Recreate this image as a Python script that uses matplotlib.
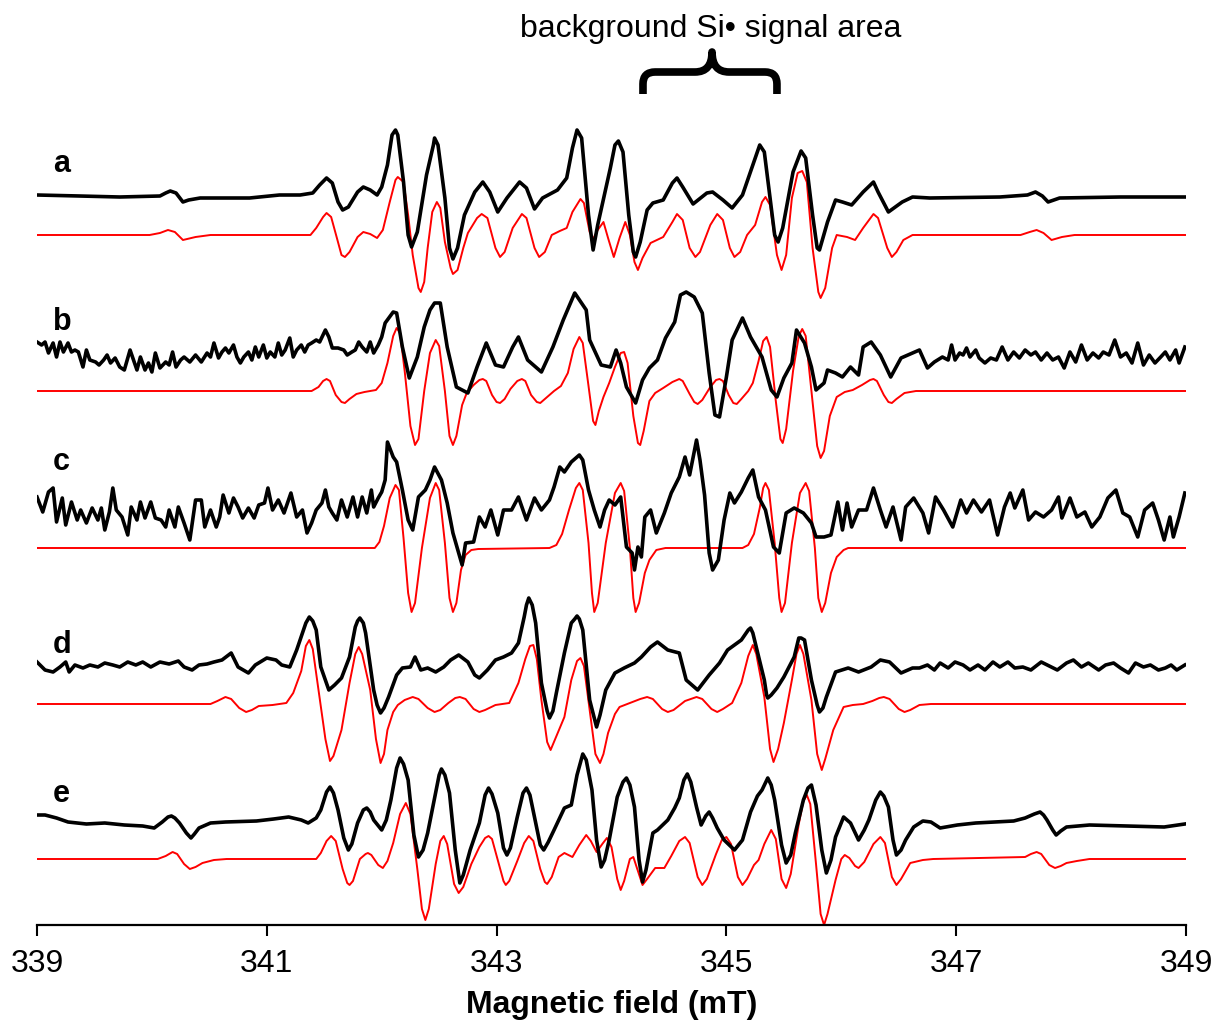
import numpy as np
import matplotlib
matplotlib.use("Agg")
import matplotlib.pyplot as plt
from matplotlib.path import Path
from matplotlib.patches import PathPatch

plt.rcParams['font.family'] = ['Liberation Sans', 'DejaVu Sans']

# ---------------- data (field in mT, intensity in arbitrary units) ----------------
trace_labels = ['a', 'b', 'c', 'd', 'e']
x_ticks = [339, 341, 343, 345, 347, 349]

a_exp_field = [339.00, 339.37, 339.72, 340.07, 340.12, 340.16, 340.21, 340.27, 340.32, 340.42, 340.85, 341.11,
               341.29, 341.40, 341.46, 341.52, 341.57, 341.62, 341.66, 341.71, 341.79, 341.84, 341.90, 341.96,
               342.00, 342.05, 342.09, 342.12, 342.14, 342.19, 342.23, 342.26, 342.31, 342.39, 342.45, 342.46,
               342.49, 342.55, 342.59, 342.62, 342.66, 342.72, 342.81, 342.88, 342.94, 343.01, 343.09, 343.20,
               343.26, 343.33, 343.40, 343.53, 343.61, 343.66, 343.70, 343.74, 343.80, 343.84, 343.88, 343.99,
               344.03, 344.06, 344.10, 344.15, 344.19, 344.21, 344.25, 344.31, 344.36, 344.45, 344.53, 344.57,
               344.62, 344.71, 344.83, 344.88, 344.97, 345.05, 345.14, 345.23, 345.29, 345.33, 345.38, 345.42,
               345.45, 345.49, 345.58, 345.65, 345.69, 345.75, 345.79, 345.81, 345.88, 345.95, 346.01, 346.09,
               346.19, 346.28, 346.32, 346.41, 346.53, 346.62, 346.77, 347.38, 347.62, 347.69, 347.75, 347.80,
               347.90, 348.43, 349.00]
a_exp_int = [1, 0, -1, 0, 3, 5, 3, -6, -4, -2, -2, 1,
             1, 3, 11, 18, 13, -6, -14, -11, 4, 9, 6, 1,
             9, 31, 61, 66, 61, 14, -39, -51, -36, 21, 51, 58,
             51, -2, -52, -63, -52, -19, 4, 14, 4, -16, -2, 14,
             8, -13, -2, 6, 18, 48, 66, 58, -19, -54, -29, 28,
             51, 55, 44, -19, -56, -61, -46, -14, -7, -4, 13, 18,
             9, -8, 3, 4, -4, -12, 1, 31, 51, 44, -2, -39,
             -46, -32, 24, 45, 38, -19, -52, -54, -26, -4, -6, -9,
             4, 14, 4, -16, -6, -1, -2, -1, 1, 4, 0, -6,
             -2, -1, -1]

a_sim_field = [339.00, 339.98, 340.07, 340.14, 340.20, 340.27, 340.38, 340.51, 341.38, 341.43, 341.49, 341.52,
               341.56, 341.61, 341.65, 341.68, 341.72, 341.79, 341.84, 341.90, 341.96, 342.01, 342.07, 342.12,
               342.14, 342.19, 342.23, 342.27, 342.32, 342.34, 342.37, 342.40, 342.44, 342.48, 342.51, 342.55,
               342.60, 342.62, 342.66, 342.71, 342.75, 342.83, 342.87, 342.92, 342.99, 343.03, 343.07, 343.14,
               343.22, 343.26, 343.33, 343.37, 343.42, 343.48, 343.55, 343.61, 343.66, 343.73, 343.76, 343.81,
               343.84, 343.88, 343.93, 343.97, 344.02, 344.07, 344.12, 344.16, 344.20, 344.23, 344.27, 344.34,
               344.45, 344.53, 344.57, 344.62, 344.68, 344.73, 344.77, 344.86, 344.92, 344.97, 345.03, 345.07,
               345.12, 345.18, 345.25, 345.31, 345.34, 345.38, 345.44, 345.48, 345.52, 345.57, 345.62, 345.66,
               345.70, 345.75, 345.80, 345.82, 345.86, 345.92, 345.96, 346.05, 346.12, 346.19, 346.28, 346.32,
               346.40, 346.44, 346.48, 346.54, 346.62, 347.56, 347.64, 347.70, 347.76, 347.83, 347.92, 348.03,
               349.00]
a_sim_int = [0, 0, 2, 5, 3, -5, -2, 0, 0, 7, 18, 22,
             18, -3, -20, -22, -17, -2, 3, 1, -3, 5, 33, 55,
             58, 53, 20, -20, -53, -57, -47, -13, 23, 33, 27, -7,
             -33, -39, -35, -13, 2, 17, 21, 17, -13, -22, -17, 7,
             21, 17, -13, -22, -17, 0, 4, 7, 23, 36, 32, 3,
             -4, 5, 13, -3, -22, -3, 13, 0, -27, -35, -23, -8,
             -2, 13, 21, 15, -13, -22, -17, 10, 21, 15, -13, -22,
             -17, 0, 10, 33, 38, 30, -20, -35, -20, 37, 62, 64,
             53, -13, -57, -63, -53, -13, 0, -2, -5, 7, 21, 17,
             -13, -22, -17, -5, 0, 0, 3, 5, 2, -5, -2, 0,
             0]

b_exp_field = [339.00, 339.04, 339.07, 339.10, 339.14, 339.17, 339.20, 339.23, 339.27, 339.30, 339.33, 339.36,
               339.40, 339.43, 339.46, 339.51, 339.54, 339.58, 339.61, 339.64, 339.68, 339.72, 339.76, 339.81,
               339.84, 339.87, 339.90, 339.94, 339.97, 340.00, 340.03, 340.07, 340.12, 340.15, 340.18, 340.21,
               340.25, 340.28, 340.33, 340.38, 340.43, 340.48, 340.51, 340.54, 340.58, 340.61, 340.64, 340.67,
               340.71, 340.74, 340.77, 340.80, 340.84, 340.87, 340.90, 340.93, 340.97, 341.00, 341.03, 341.07,
               341.10, 341.13, 341.16, 341.20, 341.23, 341.26, 341.30, 341.33, 341.36, 341.39, 341.43, 341.46,
               341.51, 341.54, 341.57, 341.62, 341.67, 341.70, 341.74, 341.77, 341.80, 341.83, 341.87, 341.90,
               341.93, 341.97, 342.00, 342.03, 342.10, 342.13, 342.18, 342.24, 342.31, 342.37, 342.42, 342.46,
               342.51, 342.57, 342.65, 342.75, 342.83, 342.91, 342.99, 343.06, 343.14, 343.19, 343.27, 343.39,
               343.49, 343.58, 343.68, 343.75, 343.78, 343.81, 343.91, 343.99, 344.04, 344.08, 344.13, 344.21,
               344.27, 344.33, 344.40, 344.47, 344.55, 344.60, 344.65, 344.72, 344.79, 344.85, 344.90, 344.94,
               345.00, 345.05, 345.14, 345.21, 345.31, 345.39, 345.44, 345.50, 345.57, 345.61, 345.68, 345.74,
               345.78, 345.85, 345.88, 345.95, 346.01, 346.08, 346.15, 346.19, 346.26, 346.34, 346.43, 346.52,
               346.68, 346.75, 346.81, 346.88, 346.93, 346.96, 346.99, 347.03, 347.06, 347.09, 347.12, 347.17,
               347.20, 347.25, 347.30, 347.35, 347.40, 347.45, 347.50, 347.55, 347.60, 347.65, 347.69, 347.74,
               347.79, 347.84, 347.89, 347.94, 347.99, 348.04, 348.09, 348.14, 348.19, 348.24, 348.28, 348.33,
               348.38, 348.43, 348.48, 348.53, 348.58, 348.63, 348.68, 348.73, 348.78, 348.82, 348.86, 348.91,
               348.94, 348.99]
b_exp_int = [8, 5, 8, -3, 7, -7, 8, -2, 7, -2, 0, -2,
             -17, 0, -10, -12, -15, -10, -5, -13, -8, -17, -20, 0,
             -10, -20, -7, -20, -13, -22, -3, -18, -12, -15, -2, -17,
             -10, -7, -12, -5, -12, -3, -7, 7, -8, -2, 2, -3,
             5, -7, -13, -7, -2, -10, 3, -7, 5, -8, -2, -7,
             7, -5, 0, 12, -7, 0, 5, -2, 5, 7, 10, 8,
             20, 13, 2, 2, 0, -5, -2, 0, 8, 3, -2, 8,
             -3, 5, 13, 27, 38, 37, 3, -28, -7, 23, 40, 47,
             47, 3, -37, -43, -17, 7, -15, -17, 3, 13, -10, -22,
             3, 30, 57, 45, 40, 10, -15, -17, 0, -13, -37, -53,
             -30, -18, -10, 12, 28, 55, 58, 53, 37, -23, -65, -67,
             -27, 10, 32, 13, -7, -40, -47, -28, -13, 20, 7, -17,
             -40, -33, -20, -23, -27, -17, -25, 3, 8, -5, -27, -8,
             0, -18, -12, -7, -10, 5, -10, -3, -5, 2, -7, 0,
             -8, -13, -8, -10, 3, -10, -2, -8, 0, -5, -2, -10,
             -3, -10, -7, -18, -2, -12, 5, -10, -3, -8, -2, -5,
             10, -7, -3, -13, 7, -15, -5, -13, -7, -2, -10, 0,
             -13, 3]

b_sim_field = [339.00, 341.39, 341.45, 341.49, 341.52, 341.55, 341.60, 341.65, 341.68, 341.72, 341.78, 341.85,
               341.95, 342.00, 342.05, 342.10, 342.13, 342.16, 342.20, 342.25, 342.29, 342.32, 342.37, 342.42,
               342.47, 342.50, 342.55, 342.59, 342.62, 342.65, 342.70, 342.74, 342.80, 342.85, 342.88, 342.91,
               342.96, 343.00, 343.03, 343.07, 343.12, 343.18, 343.22, 343.25, 343.30, 343.35, 343.38, 343.42,
               343.50, 343.56, 343.62, 343.67, 343.72, 343.75, 343.80, 343.84, 343.86, 343.89, 343.93, 343.98,
               344.03, 344.08, 344.11, 344.14, 344.19, 344.23, 344.25, 344.28, 344.33, 344.38, 344.45, 344.53,
               344.59, 344.62, 344.68, 344.72, 344.75, 344.79, 344.86, 344.91, 344.94, 344.97, 345.02, 345.06,
               345.09, 345.13, 345.19, 345.23, 345.28, 345.32, 345.35, 345.38, 345.43, 345.47, 345.49, 345.52,
               345.58, 345.63, 345.66, 345.69, 345.74, 345.79, 345.82, 345.85, 345.90, 345.96, 346.03, 346.10,
               346.18, 346.25, 346.28, 346.31, 346.37, 346.41, 346.44, 346.48, 346.55, 346.65, 349.00]
b_sim_int = [0, 0, 4, 10, 12, 10, -4, -11, -12, -8, -3, -1,
             1, 8, 28, 55, 63, 58, 20, -35, -54, -48, 0, 38,
             51, 45, 0, -45, -54, -45, -14, -2, 6, 11, 12, 10,
             -4, -11, -12, -8, 2, 10, 12, 10, -4, -11, -12, -8,
             0, 5, 18, 42, 54, 48, 5, -30, -34, -20, -6, 8,
             24, 38, 39, 28, -25, -52, -54, -40, -10, -2, 3, 9,
             12, 10, -3, -11, -13, -9, 4, 11, 12, 10, -4, -12,
             -13, -8, 0, 8, 30, 50, 54, 44, -10, -48, -52, -38,
             20, 55, 62, 55, 0, -55, -67, -60, -25, -6, -1, 1,
             6, 11, 12, 10, -4, -11, -12, -8, -2, 0, 0]

c_exp_field = [339.00, 339.05, 339.10, 339.14, 339.17, 339.22, 339.25, 339.30, 339.35, 339.38, 339.43, 339.48,
               339.53, 339.56, 339.59, 339.63, 339.66, 339.69, 339.74, 339.79, 339.82, 339.87, 339.90, 339.94,
               339.99, 340.03, 340.08, 340.12, 340.15, 340.20, 340.23, 340.28, 340.33, 340.38, 340.43, 340.46,
               340.51, 340.56, 340.59, 340.62, 340.67, 340.71, 340.75, 340.79, 340.84, 340.89, 340.93, 340.98,
               341.01, 341.05, 341.10, 341.15, 341.18, 341.21, 341.26, 341.31, 341.35, 341.39, 341.43, 341.48,
               341.51, 341.54, 341.57, 341.61, 341.65, 341.70, 341.75, 341.79, 341.83, 341.87, 341.91, 341.93,
               341.97, 342.00, 342.03, 342.05, 342.10, 342.13, 342.18, 342.23, 342.27, 342.32, 342.38, 342.42,
               342.46, 342.52, 342.57, 342.62, 342.67, 342.70, 342.73, 342.80, 342.85, 342.90, 342.95, 343.01,
               343.06, 343.13, 343.19, 343.26, 343.33, 343.39, 343.46, 343.50, 343.55, 343.59, 343.65, 343.72,
               343.75, 343.80, 343.85, 343.90, 343.94, 343.98, 344.03, 344.08, 344.13, 344.18, 344.20, 344.23,
               344.26, 344.29, 344.34, 344.39, 344.46, 344.52, 344.59, 344.64, 344.68, 344.74, 344.77, 344.81,
               344.85, 344.88, 344.93, 344.98, 345.03, 345.07, 345.13, 345.19, 345.23, 345.28, 345.34, 345.41,
               345.46, 345.52, 345.59, 345.67, 345.74, 345.78, 345.85, 345.91, 345.97, 346.01, 346.05, 346.09,
               346.15, 346.22, 346.28, 346.34, 346.39, 346.45, 346.52, 346.56, 346.63, 346.71, 346.76, 346.82,
               346.89, 346.97, 347.04, 347.09, 347.15, 347.22, 347.29, 347.36, 347.42, 347.47, 347.51, 347.58,
               347.63, 347.69, 347.76, 347.83, 347.89, 347.92, 347.99, 348.05, 348.12, 348.18, 348.25, 348.32,
               348.39, 348.45, 348.51, 348.58, 348.64, 348.71, 348.76, 348.81, 348.86, 348.89, 348.94, 348.99]
c_exp_int = [8, -7, 13, 17, -17, 7, -20, 3, -15, -5, -18, -3,
             -15, -3, -25, -7, 17, -5, -12, -30, -2, -15, 3, -13,
             3, -13, -15, -22, -5, -22, -2, -18, -35, 5, 5, -22,
             -5, -22, -12, 10, -8, 7, -2, -13, -3, -13, 0, 2,
             17, -5, 5, -8, 2, 12, -12, -5, -28, -18, -5, 2,
             15, -2, -8, -15, 5, -12, 8, -12, 8, -8, 15, -2,
             7, 13, 25, 63, 48, 43, 15, -15, -25, 8, 15, 25,
             38, 25, 2, -28, -48, -60, -38, -37, -12, -22, -5, -30,
             -5, -5, 8, -15, 7, -5, 5, 18, 38, 33, 43, 50,
             45, 15, -5, -22, -5, 5, 0, 8, -42, -48, -65, -42,
             -52, -12, -5, -28, -8, 12, 28, 48, 30, 65, 45, 10,
             -48, -65, -55, -15, 12, 2, 13, 27, 35, 8, -5, -42,
             -48, -8, -3, -8, -18, -32, -32, -30, 3, -25, 2, -22,
             -5, -5, 17, -5, -22, -2, -35, -2, 7, -8, -28, 8,
             -5, -22, 5, -8, 5, -7, 5, -30, -2, 12, -3, 15,
             -15, -7, -12, -5, 8, -13, 7, -12, -7, -22, -12, 7,
             15, -8, -12, -32, -5, 2, -15, -35, -12, -32, -12, 12]

c_sim_field = [339.00, 341.94, 341.98, 342.02, 342.07, 342.12, 342.15, 342.19, 342.23, 342.26, 342.29, 342.35,
               342.42, 342.47, 342.50, 342.55, 342.59, 342.62, 342.65, 342.69, 342.73, 342.78, 342.84, 343.46,
               343.52, 343.57, 343.63, 343.69, 343.72, 343.75, 343.80, 343.83, 343.85, 343.88, 343.95, 344.03,
               344.08, 344.11, 344.16, 344.19, 344.21, 344.24, 344.29, 344.33, 344.39, 344.47, 345.14, 345.19,
               345.24, 345.29, 345.32, 345.34, 345.37, 345.42, 345.46, 345.48, 345.51, 345.57, 345.64, 345.69,
               345.72, 345.77, 345.80, 345.83, 345.86, 345.91, 345.96, 346.02, 346.06, 349.00]
c_sim_int = [0, 0, 6, 22, 50, 63, 58, 10, -45, -64, -55, 0,
             50, 65, 58, 5, -50, -64, -55, -22, -7, -2, -1, 0,
             3, 14, 38, 60, 65, 58, 5, -45, -64, -55, 5, 55,
             65, 57, 0, -50, -64, -55, -25, -12, -2, 0, 0, 3,
             14, 40, 60, 65, 58, 5, -50, -64, -55, 5, 55, 65,
             57, 0, -50, -64, -55, -25, -9, -2, 0, 0]

d_exp_field = [339.00, 339.07, 339.14, 339.20, 339.25, 339.28, 339.33, 339.40, 339.46, 339.53, 339.59, 339.66,
               339.72, 339.79, 339.86, 339.92, 339.99, 340.07, 340.15, 340.23, 340.28, 340.35, 340.41, 340.48,
               340.54, 340.61, 340.69, 340.75, 340.84, 340.90, 341.00, 341.08, 341.13, 341.20, 341.26, 341.32,
               341.34, 341.37, 341.40, 341.43, 341.47, 341.54, 341.59, 341.65, 341.72, 341.77, 341.79, 341.81,
               341.84, 341.86, 341.93, 341.96, 341.99, 342.02, 342.06, 342.13, 342.18, 342.25, 342.29, 342.34,
               342.40, 342.47, 342.54, 342.60, 342.67, 342.75, 342.81, 342.85, 342.92, 342.99, 343.06, 343.13,
               343.19, 343.24, 343.26, 343.28, 343.31, 343.34, 343.39, 343.44, 343.46, 343.49, 343.52, 343.59,
               343.65, 343.68, 343.70, 343.72, 343.75, 343.81, 343.85, 343.87, 343.90, 343.95, 344.03, 344.11,
               344.20, 344.26, 344.34, 344.40, 344.49, 344.59, 344.65, 344.75, 344.85, 344.94, 345.01, 345.13,
               345.19, 345.21, 345.23, 345.26, 345.33, 345.35, 345.36, 345.39, 345.44, 345.50, 345.59, 345.63,
               345.65, 345.68, 345.74, 345.79, 345.81, 345.84, 345.87, 345.95, 346.06, 346.15, 346.26, 346.34,
               346.42, 346.52, 346.62, 346.68, 346.75, 346.81, 346.86, 346.93, 346.99, 347.06, 347.12, 347.19,
               347.25, 347.32, 347.38, 347.45, 347.51, 347.58, 347.65, 347.74, 347.81, 347.88, 347.96, 348.02,
               348.09, 348.15, 348.24, 348.30, 348.37, 348.43, 348.50, 348.56, 348.63, 348.69, 348.76, 348.82,
               348.87, 348.92, 348.99]
d_exp_int = [1, -7, -9, -4, 1, -9, -2, -5, -2, -4, 0, -2,
             -4, 1, -2, 1, -4, 1, -1, 2, -4, -7, -2, -1,
             1, 3, 10, -4, -10, -2, 5, 3, -2, -4, 13, 33,
             40, 46, 42, 33, -4, -27, -22, -15, 6, 36, 42, 45,
             40, 30, -27, -42, -50, -45, -34, -12, -5, -4, 6, -7,
             -5, -9, -4, 3, 8, 1, -12, -15, -7, 3, 6, 10,
             20, 46, 58, 65, 58, 40, -20, -48, -55, -48, -30, 10,
             40, 44, 47, 44, 33, -37, -55, -64, -52, -27, -10, -5,
             0, 6, 16, 21, 13, 10, -17, -27, -12, 0, 13, 23,
             33, 35, 30, 16, -17, -32, -35, -32, -25, -14, 6, 25,
             25, 23, -17, -42, -49, -45, -34, -9, -5, -9, -4, 3,
             1, -10, -5, -5, -2, -7, 0, -5, 1, -2, -7, -2,
             -7, 1, -4, 1, -5, -4, -7, 1, -3, -7, 0, 3,
             -4, 0, -7, -2, 0, -5, -10, 0, -4, -2, -7, -5,
             -2, -7, -2]

d_sim_field = [339.00, 340.51, 340.57, 340.64, 340.69, 340.76, 340.82, 340.87, 340.93, 341.05, 341.17, 341.23,
               341.30, 341.34, 341.37, 341.40, 341.45, 341.51, 341.55, 341.58, 341.65, 341.72, 341.77, 341.80,
               341.83, 341.90, 341.95, 341.99, 342.02, 342.05, 342.10, 342.14, 342.20, 342.27, 342.32, 342.40,
               342.46, 342.51, 342.58, 342.64, 342.68, 342.73, 342.80, 342.85, 342.90, 342.99, 343.11, 343.19,
               343.25, 343.29, 343.32, 343.35, 343.39, 343.44, 343.47, 343.51, 343.59, 343.65, 343.70, 343.73,
               343.76, 343.81, 343.86, 343.90, 343.93, 343.97, 344.03, 344.07, 344.16, 344.25, 344.31, 344.36,
               344.44, 344.49, 344.54, 344.64, 344.74, 344.79, 344.87, 344.92, 344.97, 345.05, 345.13, 345.19,
               345.23, 345.26, 345.33, 345.38, 345.41, 345.45, 345.50, 345.57, 345.61, 345.64, 345.67, 345.74,
               345.79, 345.83, 345.86, 345.93, 346.02, 346.10, 346.19, 346.27, 346.33, 346.37, 346.42, 346.50,
               346.55, 346.60, 346.68, 346.78, 349.00]
d_sim_int = [0, 0, 3, 7, 5, -4, -8, -6, -2, -1, 1, 11,
             33, 58, 64, 55, 14, -35, -57, -52, -26, 21, 50, 57,
             50, 14, -35, -59, -50, -26, -8, -1, 4, 7, 5, -4,
             -8, -6, 1, 6, 7, 5, -5, -8, -6, -1, 1, 21,
             45, 58, 59, 45, 4, -38, -46, -35, -13, 24, 43, 46,
             38, -6, -50, -59, -50, -29, -10, -3, 1, 5, 7, 5,
             -5, -8, -6, 3, 7, 5, -5, -8, -5, 1, 21, 48,
             59, 50, 7, -45, -58, -45, -19, 24, 50, 59, 50, 4,
             -50, -66, -55, -26, -3, -1, 0, 3, 6, 7, 5, -5,
             -8, -6, -1, 0, 0]

e_exp_field = [339.00, 339.07, 339.17, 339.27, 339.43, 339.59, 339.76, 339.92, 340.02, 340.09, 340.14, 340.17,
               340.20, 340.24, 340.30, 340.34, 340.37, 340.41, 340.51, 340.64, 340.91, 341.06, 341.19, 341.30,
               341.36, 341.43, 341.47, 341.52, 341.55, 341.58, 341.62, 341.67, 341.71, 341.74, 341.79, 341.84,
               341.87, 341.90, 341.93, 342.00, 342.04, 342.08, 342.13, 342.16, 342.19, 342.23, 342.28, 342.32,
               342.36, 342.40, 342.44, 342.47, 342.50, 342.52, 342.55, 342.59, 342.64, 342.68, 342.71, 342.77,
               342.85, 342.90, 342.93, 342.96, 343.01, 343.06, 343.09, 343.12, 343.18, 343.23, 343.26, 343.29,
               343.34, 343.38, 343.41, 343.45, 343.50, 343.59, 343.65, 343.70, 343.75, 343.78, 343.83, 343.87,
               343.91, 343.94, 343.98, 344.05, 344.10, 344.13, 344.16, 344.20, 344.24, 344.27, 344.30, 344.36,
               344.40, 344.49, 344.55, 344.59, 344.63, 344.66, 344.69, 344.74, 344.78, 344.82, 344.85, 344.88,
               344.92, 344.98, 345.07, 345.14, 345.21, 345.27, 345.31, 345.36, 345.39, 345.42, 345.48, 345.52,
               345.56, 345.60, 345.67, 345.71, 345.74, 345.78, 345.83, 345.87, 345.91, 345.95, 346.02, 346.08,
               346.15, 346.20, 346.24, 346.30, 346.34, 346.37, 346.41, 346.45, 346.48, 346.52, 346.56, 346.63,
               346.71, 346.78, 346.86, 347.01, 347.17, 347.34, 347.50, 347.60, 347.68, 347.73, 347.76, 347.79,
               347.84, 347.87, 347.91, 347.96, 348.16, 348.48, 348.81, 348.99]
e_exp_int = [5, 5, 2, -2, -4, -3, -5, -6, -8, -2, 3, 4,
             2, -3, -13, -18, -14, -8, -3, -2, -1, 1, 3, 0,
             -3, 2, 10, 28, 33, 27, 10, -18, -30, -24, -3, 10,
             12, 8, 0, -10, 0, 20, 52, 62, 56, 40, -15, -37,
             -30, -13, 10, 27, 45, 51, 45, 27, -30, -63, -55, -30,
             -3, 25, 32, 26, 7, -28, -35, -28, 3, 27, 32, 25,
             -3, -25, -30, -22, -10, 12, 15, 45, 66, 60, 30, -20,
             -47, -40, -20, 23, 38, 42, 35, 13, -40, -62, -50, -13,
             -10, 0, 12, 22, 40, 46, 38, 13, -5, 4, 8, 2,
             -8, -20, -30, -20, 8, 24, 30, 42, 35, 20, -25, -43,
             -35, -13, 20, 32, 35, 15, -30, -53, -40, -17, 3, -3,
             -20, -10, 0, 20, 28, 24, 13, -20, -35, -30, -20, -7,
             -1, -2, -8, -5, -3, -2, -1, 2, 6, 8, 5, 0,
             -10, -15, -11, -7, -5, -6, -7, -4]

e_sim_field = [339.00, 340.05, 340.12, 340.18, 340.22, 340.28, 340.33, 340.38, 340.44, 340.54, 340.65, 341.43,
               341.47, 341.52, 341.56, 341.60, 341.66, 341.70, 341.72, 341.75, 341.81, 341.86, 341.88, 341.91,
               341.97, 342.01, 342.05, 342.10, 342.16, 342.21, 342.25, 342.31, 342.35, 342.38, 342.41, 342.47,
               342.51, 342.54, 342.57, 342.63, 342.67, 342.71, 342.78, 342.85, 342.90, 342.93, 342.96, 343.02,
               343.06, 343.08, 343.11, 343.18, 343.24, 343.28, 343.32, 343.38, 343.42, 343.44, 343.48, 343.54,
               343.59, 343.66, 343.72, 343.78, 343.82, 343.87, 343.92, 343.96, 344.00, 344.05, 344.08, 344.11,
               344.16, 344.19, 344.23, 344.27, 344.31, 344.38, 344.46, 344.52, 344.59, 344.64, 344.68, 344.75,
               344.79, 344.83, 344.91, 344.96, 345.00, 345.04, 345.10, 345.14, 345.18, 345.24, 345.28, 345.33,
               345.39, 345.43, 345.48, 345.52, 345.56, 345.63, 345.67, 345.70, 345.73, 345.78, 345.82, 345.85,
               345.88, 345.95, 346.00, 346.03, 346.07, 346.12, 346.15, 346.20, 346.28, 346.34, 346.38, 346.44,
               346.48, 346.52, 346.60, 346.71, 346.80, 347.60, 347.65, 347.70, 347.74, 347.81, 347.86, 347.91,
               347.96, 348.05, 348.16, 349.00]
e_sim_int = [0, 0, 3, 7, 5, -5, -10, -8, -4, -1, 0, 0,
             6, 18, 23, 18, -10, -24, -26, -22, 0, 5, 6, 4,
             -6, -9, -2, 16, 45, 56, 45, -10, -50, -61, -50, -5,
             18, 23, 15, -25, -34, -28, -5, 12, 21, 23, 20, -5,
             -22, -26, -22, -2, 16, 23, 18, -10, -23, -25, -18, 2,
             6, 2, 14, 24, 18, 7, 15, 21, 12, -20, -31, -22,
             0, 2, -12, -26, -20, -9, -9, 3, 18, 22, 16, -18,
             -26, -20, 5, 19, 22, 15, -18, -26, -20, -6, -1, 15,
             29, 20, -20, -29, -15, 35, 58, 64, 55, -5, -55, -66,
             -55, -21, 0, 4, 1, -7, -9, -3, 15, 22, 16, -18,
             -26, -20, -4, -1, 0, 2, 5, 7, 5, -6, -9, -7,
             -4, -2, 0, 0]

# ---------------- layout ----------------
exp_offsets = [828, 674, 519, 361, 204]
sim_offsets = [789, 633, 476, 320, 165]
label_y = [852, 694, 554, 371, 222]

exp_sets = [(a_exp_field, a_exp_int), (b_exp_field, b_exp_int), (c_exp_field, c_exp_int),
            (d_exp_field, d_exp_int), (e_exp_field, e_exp_int)]
sim_sets = [(a_sim_field, a_sim_int), (b_sim_field, b_sim_int), (c_sim_field, c_sim_int),
            (d_sim_field, d_sim_int), (e_sim_field, e_sim_int)]

fig = plt.figure(figsize=(12.16, 10.24), dpi=100)
ax = fig.add_axes([37 / 1216, 1 - 925 / 1024, (1186 - 37) / 1216, 925 / 1024])

for (sf, si), off in zip(sim_sets, sim_offsets):
    ax.plot(sf, np.asarray(si) + off, color='#ff0000', lw=1.4, solid_joinstyle='round', zorder=2)
for (ef, ei), off in zip(exp_sets, exp_offsets):
    ax.plot(ef, np.asarray(ei) + off, color='black', lw=2.6, solid_joinstyle='round', zorder=3)

for lab, ly in zip(trace_labels, label_y):
    ax.text(339.14, ly, lab, fontsize=22, fontweight='bold', ha='left', va='baseline', zorder=4)

ax.set_xlim(339, 349)
ax.set_ylim(99, 1024)
ax.set_xticks(x_ticks)
ax.set_xticklabels([str(t) for t in x_ticks])
ax.set_yticks([])
for s in ['left', 'right', 'top']:
    ax.spines[s].set_visible(False)
ax.spines['bottom'].set_linewidth(1.6)
ax.tick_params(axis='x', direction='out', length=8, width=1.5, labelsize=23, pad=9)
ax.set_xlabel('Magnetic field (mT)', fontsize=23, fontweight='bold', labelpad=8)

# annotation: brace and text
ax.text(344.86, 987, 'background Si\u2022 signal area', fontsize=23, ha='center', va='baseline')
verts = [(344.274, 930), (344.274, 940), (344.274, 952), (344.38, 952),
         (344.727, 952), (344.875, 952), (344.875, 972),
         (344.875, 952), (345.023, 952),
         (345.336, 952), (345.44, 952), (345.44, 940), (345.44, 930)]
codes = [Path.MOVETO, Path.LINETO, Path.CURVE3, Path.CURVE3,
         Path.LINETO, Path.CURVE3, Path.CURVE3,
         Path.CURVE3, Path.CURVE3,
         Path.LINETO, Path.CURVE3, Path.CURVE3, Path.LINETO]
ax.add_patch(PathPatch(Path(verts, codes), fill=False, lw=5.5, color='black',
                       capstyle='butt', joinstyle='round', clip_on=False))

fig.savefig('out.png', dpi=100)
